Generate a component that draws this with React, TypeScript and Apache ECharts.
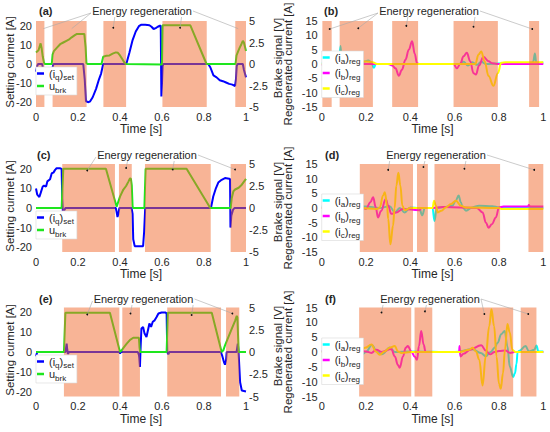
import React, { useEffect, useRef } from 'react';
import * as echarts from 'echarts';

const FONT = '"Liberation Sans", Arial, Helvetica, sans-serif';
const TEXT = '#262626';
const BLUE = '#0000FF';
const GREEN = '#1EE61E';
const CYAN = '#00FFFF';
const MAGENTA = '#FF00FF';
const YELLOW = '#FFFF00';
const OVERLAY = 'rgba(241,105,45,0.5)';

type P = [number, number];

// ---------- (a) ----------
const iqA: P[] = [[0,-4],[0.006,-1],[0.01,0],[0.03,0],[0.032,-2],[0.036,-8],[0.045,-10],[0.06,-10],[0.075,-8],[0.079,-2],[0.083,0],[0.225,0],[0.232,-8],[0.238,-19.5],[0.25,-20],[0.258,-19.5],[0.27,-17.4],[0.286,-13],[0.3,-8],[0.31,-5],[0.316,-2],[0.32,0],[0.43,0],[0.445,6],[0.46,12.5],[0.475,17],[0.49,19.8],[0.5,20.5],[0.52,20.5],[0.54,20.3],[0.55,19.5],[0.56,18.3],[0.57,18.8],[0.58,19.5],[0.59,20],[0.594,20],[0.597,-17],[0.6,-10],[0.603,-1],[0.607,0],[0.82,0],[0.83,-1.7],[0.845,-6],[0.86,-7],[0.875,-8.5],[0.89,-9],[0.905,-9.7],[0.92,-10.4],[0.935,-10.8],[0.948,-11.5],[0.952,-8],[0.956,-1],[0.96,0],[0.985,0],[0.99,-3],[1,-7]];
const ubA: P[] = [[0,1.35],[0.012,1.6],[0.017,2.0],[0.022,2.4],[0.027,1.8],[0.032,0.9],[0.038,0.15],[0.042,0],[0.075,0],[0.079,1.1],[0.085,1.5],[0.1,1.9],[0.115,2.3],[0.13,2.5],[0.145,2.7],[0.16,2.9],[0.17,3.1],[0.185,3.35],[0.195,3.5],[0.23,3.5],[0.236,2],[0.24,0.1],[0.245,0],[0.312,0],[0.32,0.85],[0.335,0.95],[0.35,1.0],[0.365,1.2],[0.38,1.35],[0.39,1.3],[0.4,1.0],[0.41,0.6],[0.42,0.2],[0.428,0],[0.6,-0.05],[0.603,4.5],[0.735,4.5],[0.812,0],[0.95,0],[0.955,1.0],[0.963,1.5],[0.97,1.9],[0.978,2.3],[0.985,2.7],[0.99,2.5],[1,1.5]];
const regA: P[] = [[0,0.04],[0.079,0.241],[0.321,0.429],[0.602,0.813],[0.949,1]];
const dotsA: P[] = [[0.035,18.5],[0.17,18.5],[0.368,19],[0.686,19],[0.963,18.5]];

// ---------- (b) ----------
const iaB: P[] = [[0,0.3],[0.07,0.3],[0.078,1],[0.085,6.3],[0.09,1],[0.1,0.2],[0.15,0.3],[0.19,0.8],[0.21,1.2],[0.225,0.5],[0.235,-1.3],[0.245,0],[0.3,0],[0.62,0],[0.64,0.8],[0.66,-0.5],[0.68,0.6],[0.7,-0.3],[0.72,0.8],[0.74,0],[0.8,0.2],[0.95,0.2],[0.955,1],[0.962,3.7],[0.968,0.5],[0.975,0.2],[1,0.5]];
const ibB: P[] = [[0,-0.5],[0.03,0],[0.3,0],[0.318,-0.5],[0.333,-1.5],[0.348,-4.1],[0.362,-2],[0.378,1.5],[0.393,5],[0.408,7.9],[0.42,3.5],[0.43,0.3],[0.44,0],[0.595,0],[0.61,-1.5],[0.625,0],[0.64,2.7],[0.655,3.9],[0.67,1],[0.685,-3.2],[0.696,-3.7],[0.71,-0.5],[0.73,2.5],[0.753,1],[0.768,0.3],[0.79,0],[1,0]];
const icB: P[] = [[0,0],[0.08,0],[0.1,0.6],[0.15,0.8],[0.2,0.9],[0.23,0.6],[0.25,0],[0.693,0],[0.708,3.3],[0.72,4.4],[0.735,1],[0.753,-4.2],[0.775,-7.6],[0.795,-3.2],[0.81,0.4],[0.83,0.6],[1,0.6]];
const regB: P[] = [[0.003,0.045],[0.081,0.231],[0.318,0.435],[0.595,0.795],[0.936,0.981]];
const dotsB: P[] = [[0.036,12.2],[0.165,12.5],[0.382,13.3],[0.685,13],[0.95,12.2]];

// ---------- (c) ----------
const iqC: P[] = [[0,10],[0.006,6.8],[0.016,5.6],[0.022,7.6],[0.032,11],[0.038,11.4],[0.048,11],[0.054,13.6],[0.067,14.7],[0.075,17.8],[0.083,18.1],[0.091,19.5],[0.098,20.3],[0.114,20.3],[0.122,20],[0.125,5],[0.128,-2.2],[0.133,-1.5],[0.14,0],[0.38,0],[0.383,-1.5],[0.388,-4.6],[0.392,-3],[0.397,0],[0.455,0],[0.46,-3],[0.463,-16],[0.47,-19.5],[0.51,-19.5],[0.515,-12],[0.52,0],[0.833,0],[0.844,5.9],[0.857,10.2],[0.868,13],[0.884,14.4],[0.9,15.3],[0.92,15],[0.924,14.8],[0.926,-10],[0.93,-4],[0.938,-1],[0.945,0],[1,0]];
const ubC: P[] = [[0,0],[0.122,0],[0.13,4.47],[0.333,4.47],[0.384,0.15],[0.4,1.3],[0.416,2.1],[0.429,2.5],[0.44,3.0],[0.448,3.4],[0.452,3.3],[0.456,2.6],[0.46,0.2],[0.463,0],[0.516,0],[0.522,4.47],[0.717,4.47],[0.83,0],[0.927,0],[0.932,1.1],[0.94,1.9],[0.948,2.1],[0.965,2.3],[0.98,2.65],[1,3.3]];
const regC: P[] = [[0.125,0.376],[0.395,0.456],[0.519,0.832],[0.927,1]];
const dotsC: P[] = [[0.244,19.2],[0.429,20.5],[0.651,19.7],[0.948,19.7]];

// ---------- (d) ----------
const iaD: P[] = [[0,0.5],[0.2,0.5],[0.26,0],[0.307,0.6],[0.33,-1.5],[0.352,0],[0.374,-1.5],[0.4,0.2],[0.44,0],[0.454,-2.5],[0.465,0],[0.5,0],[0.509,-4.4],[0.519,0],[0.55,0.3],[0.59,0.8],[0.605,2.5],[0.618,4.3],[0.628,1.9],[0.636,0.2],[0.651,-0.9],[0.68,0.2],[0.71,0.8],[0.77,0.6],[0.8,0.2],[0.81,0],[1,0]];
const ibD: P[] = [[0,0],[0.17,0.2],[0.2,-0.3],[0.22,2],[0.232,3.7],[0.244,0.2],[0.254,-3.2],[0.268,-1],[0.289,3.1],[0.3,0.8],[0.314,-2],[0.336,-1.5],[0.366,-0.3],[0.44,-0.8],[0.45,0],[0.5,0],[0.55,0.3],[0.7,0],[0.726,-1.5],[0.741,-5],[0.753,-6.7],[0.768,-5.5],[0.786,-3.2],[0.8,0.2],[0.82,0.5],[0.93,0.5],[0.935,1.0],[0.94,0.5],[1,0.5]];
const icD: P[] = [[0,0],[0.17,0],[0.25,-0.3],[0.262,0.2],[0.277,4.3],[0.285,5.4],[0.295,0.8],[0.3,-3.7],[0.31,-12.4],[0.322,-6],[0.329,0],[0.337,7.7],[0.346,12],[0.355,7.7],[0.364,0.8],[0.374,-0.7],[0.4,0],[0.5,0],[0.507,2.5],[0.515,0.8],[0.524,-1.5],[0.54,-0.9],[0.56,0.2],[0.584,1.4],[0.606,2.5],[0.628,0.8],[0.65,0.2],[0.8,0],[0.81,-0.3],[1,-0.3]];
const regD: P[] = [[0.172,0.412],[0.43,0.479],[0.509,0.805],[0.933,1]];
const dotsD: P[] = [[0.30,13],[0.459,14],[0.644,13.4],[0.959,13]];

// ---------- (e) ----------
const iqE: P[] = [[0,-2.2],[0.006,0],[0.14,0],[0.143,2],[0.146,4.2],[0.149,1],[0.152,-1],[0.157,0],[0.397,0],[0.4,-0.8],[0.404,0],[0.485,0],[0.49,-1.5],[0.492,-3],[0.495,-7.6],[0.498,2],[0.502,11.9],[0.51,12.7],[0.517,9.3],[0.526,7.6],[0.535,11.9],[0.54,14.4],[0.548,12.7],[0.556,15.3],[0.565,16],[0.575,17.8],[0.583,19.5],[0.598,20],[0.615,20],[0.622,19.5],[0.625,0],[0.63,-1.2],[0.635,0],[0.88,0],[0.887,-2],[0.895,-5.1],[0.9,-6.4],[0.905,-4.2],[0.908,0],[0.955,0],[0.958,2],[0.961,4.2],[0.964,1],[0.967,-5],[0.972,-15.3],[0.98,-19.5],[1,-20]];
const ubE: P[] = [[0,0],[0.133,0],[0.14,4.4],[0.352,4.4],[0.4,0],[0.408,0.19],[0.419,0.55],[0.432,0.93],[0.448,1.37],[0.463,1.6],[0.49,1.6],[0.493,0.5],[0.496,0],[0.622,0],[0.628,4.4],[0.837,4.4],[0.884,0],[0.892,0.19],[0.9,0.74],[0.916,1.67],[0.932,2.6],[0.948,3.5],[0.956,4.07],[0.959,3.9],[0.965,0],[1,0]];
const regE: P[] = [[0.133,0.397],[0.411,0.495],[0.625,0.881],[0.905,0.968]];
const dotsE: P[] = [[0.244,19],[0.45,19.5],[0.741,18.7],[0.935,19.5]];

// ---------- (f) ----------
const iaF: P[] = [[0,0.2],[0.17,0.2],[0.181,-0.8],[0.2,0],[0.226,2.4],[0.25,0],[0.271,-0.8],[0.308,1.5],[0.33,0],[0.4,0.2],[0.6,0],[0.68,0.9],[0.718,-0.3],[0.74,-1.4],[0.762,0],[0.78,1.4],[0.794,3.1],[0.81,6],[0.826,7.1],[0.838,1.9],[0.849,-5],[0.864,-8.4],[0.872,-7.2],[0.879,-4],[0.884,0],[0.89,0.3],[0.92,2],[0.935,0.2],[0.96,0.8],[0.969,2.2],[0.978,0.2],[1,0.2]];
const ibF: P[] = [[0,0.3],[0.17,0.3],[0.2,0.2],[0.224,-0.3],[0.247,0.8],[0.27,0],[0.314,1],[0.33,-1.5],[0.344,-4.4],[0.352,-5.3],[0.367,-1.5],[0.379,1.4],[0.389,2],[0.404,0.2],[0.419,-1.5],[0.43,-2.6],[0.439,2],[0.449,7.1],[0.46,2.5],[0.469,0],[0.62,0],[0.622,2],[0.626,-1.5],[0.64,-0.6],[0.67,0.8],[0.72,2.3],[0.74,0.5],[0.76,-0.8],[0.78,0],[0.8,0.3],[0.83,0.5],[0.85,-0.3],[0.87,0],[1,0]];
const icF: P[] = [[0,0],[0.17,0],[0.195,1.4],[0.225,2.5],[0.244,0.2],[0.262,-0.9],[0.284,0.2],[0.307,1.4],[0.33,2],[0.344,0.2],[0.36,-0.3],[0.4,0],[0.62,0],[0.666,0.8],[0.681,1.4],[0.696,0.2],[0.711,-2.6],[0.726,-11.3],[0.74,-1.5],[0.756,8.7],[0.766,14.4],[0.778,8.7],[0.789,-1.5],[0.8,-10.7],[0.808,-12.4],[0.818,-7.2],[0.827,0.8],[0.838,9.4],[0.849,6.5],[0.86,0.8],[0.875,0],[1,0]];
const regF: P[] = [[0.169,0.404],[0.419,0.499],[0.624,0.864],[0.898,0.969]];
const dotsF: P[] = [[0.27,13.3],[0.466,13.7],[0.734,12.8],[0.932,12.8]];

// ticks
const xTicks = { min: 0, max: 1, interval: 0.2 };
const currentTicks = [-20, -10, 0, 10, 20];
const brakeRange = { min: -5, max: 5, interval: 2.5 };
const regenRange = { min: -15, max: 15, interval: 5 };

const ANNOT = 'Energy regeneration';
const NAME_CURRENT = 'Setting curmet [A]';
const NAME_BRAKE = 'Brake signal [V]';
const NAME_REGEN = 'Regenerated current [A]';

interface Panel {
  key: string;
  kind: 'L' | 'R';
  series: P[][];
  regions: P[];
  dots: P[];
  text: [number, number];
  letter: [number, number];
  legendTop: number;
}

const panels: Panel[] = [
  { key: 'a', kind: 'L', series: [iqA, ubA], regions: regA, dots: dotsA, text: [142, 11], letter: [39, 11], legendTop: 67 },
  { key: 'b', kind: 'R', series: [iaB, ibB, icB], regions: regB, dots: dotsB, text: [429, 11], letter: [324, 11], legendTop: 51 },
  { key: 'c', kind: 'L', series: [iqC, ubC], regions: regC, dots: dotsC, text: [147, 155], letter: [37, 155], legendTop: 211 },
  { key: 'd', kind: 'R', series: [iaD, ibD, icD], regions: regD, dots: dotsD, text: [436, 155], letter: [325, 155], legendTop: 194 },
  { key: 'e', kind: 'L', series: [iqE, ubE], regions: regE, dots: dotsE, text: [143.5, 299], letter: [39, 299], legendTop: 355 },
  { key: 'f', kind: 'R', series: [iaF, ibF, icF], regions: regF, dots: dotsF, text: [430, 299], letter: [325, 299], legendTop: 338 },
];

const rows = [
  { top: 21, height: 86 },
  { top: 164, height: 88 },
  { top: 307.5, height: 89 },
];
const cols = [
  { left: 36, width: 210 },
  { left: 321.7, width: 221.6 },
];
// x positions (centre of rotated text) of y-axis titles
const nameX = { current: 9.5, brake: 277.5, regen: 287.5 };

const legendText: Record<string, string> = {
  iq: '{n|(i}{s|q}{n|)}{s|set}',
  ub: '{n|u}{s|brk}',
  ia: '{n|(i}{s|a}{n|)}{s|reg}',
  ib: '{n|(i}{s|b}{n|)}{s|reg}',
  ic: '{n|(i}{s|c}{n|)}{s|reg}',
};

function buildOption() {
  const grid: any[] = [];
  const xAxis: any[] = [];
  const yAxis: any[] = [];
  const series: any[] = [];
  const legend: any[] = [];
  const primaryY: number[] = [];

  const labelStyle = { fontSize: 11, color: TEXT, fontFamily: FONT };

  panels.forEach((p, i) => {
    const col = cols[i % 2];
    const row = rows[Math.floor(i / 2)];
    grid.push({ left: col.left, top: row.top, width: col.width, height: row.height, outerBoundsMode: 'none', containLabel: false });
    xAxis.push({
      type: 'value', gridIndex: i, ...xTicks,
      axisLine: { show: false }, axisTick: { show: false }, splitLine: { show: false },
      axisLabel: { ...labelStyle, margin: 4 },
      name: 'Time [s]', nameLocation: 'middle', nameGap: 16, nameMoveOverlap: false,
      nameTextStyle: { fontSize: 12, color: TEXT, fontFamily: FONT },
    });
    const names: string[] = [];
    if (p.kind === 'L') {
      const yL = yAxis.length;
      primaryY.push(yL);
      yAxis.push({
        type: 'value', gridIndex: i, position: 'left', min: -22.5, max: 22.5,
        axisLine: { show: false }, axisTick: { show: false }, splitLine: { show: false },
        axisLabel: { ...labelStyle, margin: 4, customValues: currentTicks },
      });
      const yR = yAxis.length;
      yAxis.push({
        type: 'value', gridIndex: i, position: 'right', ...brakeRange,
        axisLine: { show: false }, axisTick: { show: false }, splitLine: { show: false },
        axisLabel: { ...labelStyle, margin: 3 },
      });
      const iqName = 'iq_' + p.key;
      const ubName = 'ub_' + p.key;
      names.push(iqName, ubName);
      series.push({
        type: 'line', name: iqName, xAxisIndex: i, yAxisIndex: yL, data: p.series[0],
        showSymbol: false, symbol: 'none', lineStyle: { color: BLUE, width: 2 }, itemStyle: { color: BLUE }, z: 2,
      });
      series.push({
        type: 'line', name: ubName, xAxisIndex: i, yAxisIndex: yR, data: p.series[1],
        showSymbol: false, symbol: 'none', lineStyle: { color: GREEN, width: 2 }, itemStyle: { color: GREEN }, z: 2,
      });
    } else {
      const y0 = yAxis.length;
      primaryY.push(y0);
      yAxis.push({
        type: 'value', gridIndex: i, position: 'left', ...regenRange,
        axisLine: { show: false }, axisTick: { show: false }, splitLine: { show: false },
        axisLabel: { ...labelStyle, margin: 4 },
      });
      const keys = ['ia', 'ib', 'ic'];
      const colors = [CYAN, MAGENTA, YELLOW];
      keys.forEach((k, j) => {
        const nm = k + '_' + p.key;
        names.push(nm);
        series.push({
          type: 'line', name: nm, xAxisIndex: i, yAxisIndex: y0, data: p.series[j],
          showSymbol: false, symbol: 'none', smooth: 0.4, smoothMonotone: 'x',
          lineStyle: { color: colors[j], width: 2 }, itemStyle: { color: colors[j] }, z: 2,
        });
      });
    }
    // overlay shading (drawn on top of the lines, semi-transparent)
    series.push({
      type: 'line', name: 'shade_' + p.key, xAxisIndex: i, yAxisIndex: primaryY[i],
      data: [[0, 0]], showSymbol: false, symbol: 'none', lineStyle: { width: 0, opacity: 0 }, silent: true,
      markArea: {
        z: 5, silent: true,
        itemStyle: { color: OVERLAY, borderWidth: 0 },
        data: p.regions.map(([a, b]) => [{ xAxis: a }, { xAxis: b }]),
      },
    });
    legend.push({
      data: names, orient: 'vertical', left: col.left, top: p.legendTop, z: 10,
      icon: 'rect', itemWidth: 7, itemHeight: 2.5, itemGap: p.kind === 'L' ? -1 : 2,
      padding: [1, 3, 1, 1], backgroundColor: '#ffffff', borderColor: '#d9d9d9', borderWidth: 0.6,
      selectedMode: false,
      formatter: (name: string) => legendText[name.split('_')[0]],
      textStyle: {
        color: TEXT, fontFamily: FONT, fontSize: 11,
        rich: {
          n: { fontSize: 11, color: TEXT, fontFamily: FONT },
          s: { fontSize: 8, color: TEXT, fontFamily: FONT, padding: [8, 0, 0, 0] },
        },
      },
    });
  });

  return {
    option: {
      animation: false,
      backgroundColor: '#ffffff',
      textStyle: { fontFamily: FONT },
      grid, xAxis, yAxis, series, legend,
    },
    primaryY,
  };
}

function yTitle(text: string, x: number, y: number) {
  return {
    type: 'text', x, y, rotation: Math.PI / 2, z: 100, silent: true,
    style: { text, fontSize: 11.5, fontFamily: FONT, fill: TEXT, align: 'center', verticalAlign: 'middle' },
  };
}

function buildGraphic(chart: echarts.ECharts, primaryY: number[]) {
  const els: any[] = [];
  const halfW = 50;
  panels.forEach((p, i) => {
    const col = i % 2;
    const row = rows[Math.floor(i / 2)];
    const midY = row.top + row.height / 2;
    if (col === 0) {
      els.push(yTitle(NAME_CURRENT, nameX.current, midY - 2));
      els.push(yTitle(NAME_BRAKE, nameX.brake, midY - 6));
    } else {
      els.push(yTitle(NAME_REGEN, nameX.regen, midY));
    }
    const [cx, cy] = p.text;
    els.push({
      type: 'text', x: cx, y: cy, z: 100, silent: true,
      style: { text: ANNOT, fontSize: 11, fontFamily: FONT, fill: TEXT, align: 'center', verticalAlign: 'middle' },
    });
    els.push({
      type: 'text', x: p.letter[0], y: p.letter[1], z: 100, silent: true,
      style: { text: '(' + p.key + ')', fontSize: 11, fontWeight: 'bold', fontFamily: FONT, fill: TEXT, align: 'left', verticalAlign: 'middle' },
    });
    p.dots.forEach((d) => {
      const pt = chart.convertToPixel({ xAxisIndex: i, yAxisIndex: primaryY[i] } as any, d) as unknown as number[];
      if (!pt) return;
      let ax: number, ay: number;
      if (pt[0] < cx - halfW) { ax = cx - halfW - 1; ay = cy + 2; }
      else if (pt[0] > cx + halfW) { ax = cx + halfW + 1; ay = cy; }
      else { ax = pt[0] + 1.5; ay = cy + 6; }
      els.push({
        type: 'line', z: 100, silent: true,
        shape: { x1: ax, y1: ay, x2: pt[0], y2: pt[1] },
        style: { stroke: '#a8a8a8', lineWidth: 0.6 },
      });
      els.push({
        type: 'circle', z: 101, silent: true,
        shape: { cx: pt[0], cy: pt[1], r: 0.9 },
        style: { fill: '#111111' },
      });
    });
  });
  return els;
}

export default function App() {
  const ref = useRef<HTMLDivElement>(null);
  useEffect(() => {
    document.body.style.margin = '0';
    if (!ref.current) return;
    const chart = echarts.init(ref.current, null, { renderer: 'svg' });
    const { option, primaryY } = buildOption();
    chart.setOption(option as any);
    chart.setOption({ graphic: buildGraphic(chart, primaryY) } as any);
    return () => chart.dispose();
  }, []);
  return <div ref={ref} style={{ width: 550, height: 432 }} />;
}
